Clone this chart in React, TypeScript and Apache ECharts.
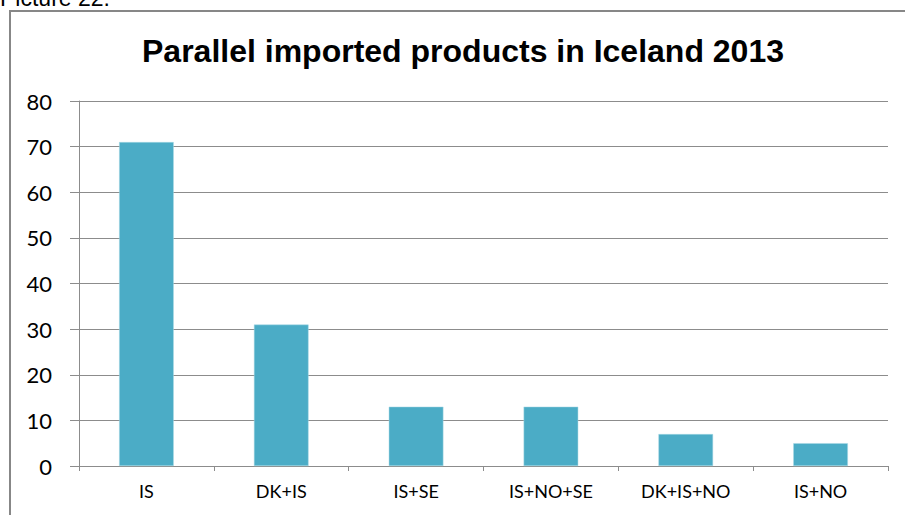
import React, { useEffect, useRef } from "react";
import * as echarts from "echarts";

const categories = ["IS", "DK+IS", "IS+SE", "IS+NO+SE", "DK+IS+NO", "IS+NO"];
const values = [71, 31, 13, 13, 7, 5];
const titleText = "Parallel imported products in Iceland 2013";
const captionText = "Picture 22:";

export default function App() {
  const ref = useRef<HTMLDivElement>(null);
  useEffect(() => {
    if (!ref.current) return;
    const chart = echarts.init(ref.current, undefined, { renderer: "svg" });
    chart.setOption({
      animation: false,
      backgroundColor: "#ffffff",
      title: {
        text: titleText,
        left: 458,
        textAlign: "center",
        top: 30,
        textStyle: {
          fontFamily: "Liberation Sans, Arial, sans-serif",
          fontWeight: "bold",
          fontSize: 32,
          color: "#000000",
        },
      },
      graphic: [
        {
          type: "rect",
          shape: { x: 10, y: 11, width: 1000, height: 1000 },
          style: { fill: "none", stroke: "#878787", lineWidth: 2 },
          silent: true,
        },
        {
          type: "text",
          x: 0,
          y: -2,
          style: {
            text: captionText,
            fontFamily: "Liberation Sans, Arial, sans-serif",
            fontSize: 23,
            fill: "#000000",
            verticalAlign: "middle",
            align: "left",
          },
        },
      ],
      grid: { left: 79, right: 17, top: 101, bottom: 49, containLabel: false },
      xAxis: {
        type: "category",
        data: categories,
        axisLine: { lineStyle: { color: "#8c8c8c", width: 1 } },
        axisTick: { show: true, length: 5, lineStyle: { color: "#8c8c8c" } },
        axisLabel: {
          margin: 16,
          fontFamily: "Lato, Open Sans, sans-serif",
          fontSize: 18,
          color: "#000000",
        },
      },
      yAxis: {
        type: "value",
        min: 0,
        max: 80,
        interval: 10,
        axisLine: { show: true, lineStyle: { color: "#8c8c8c", width: 1 } },
        axisTick: { show: true, length: 9, lineStyle: { color: "#8c8c8c" } },
        splitLine: { show: true, lineStyle: { color: "#8c8c8c", width: 1 } },
        axisLabel: {
          margin: 27,
          fontFamily: "Lato, Open Sans, sans-serif",
          fontSize: 22,
          color: "#000000",
        },
      },
      series: [
        {
          type: "bar",
          data: values,
          barWidth: "40.5%",
          itemStyle: { color: "#4BACC6", borderColor: "#a9d8e4", borderWidth: 0.5 },
        },
      ],
    });
    return () => chart.dispose();
  }, []);
  return (
    <div
      ref={ref}
      style={{ position: "fixed", left: 0, top: 0, width: 905, height: 515 }}
    />
  );
}
